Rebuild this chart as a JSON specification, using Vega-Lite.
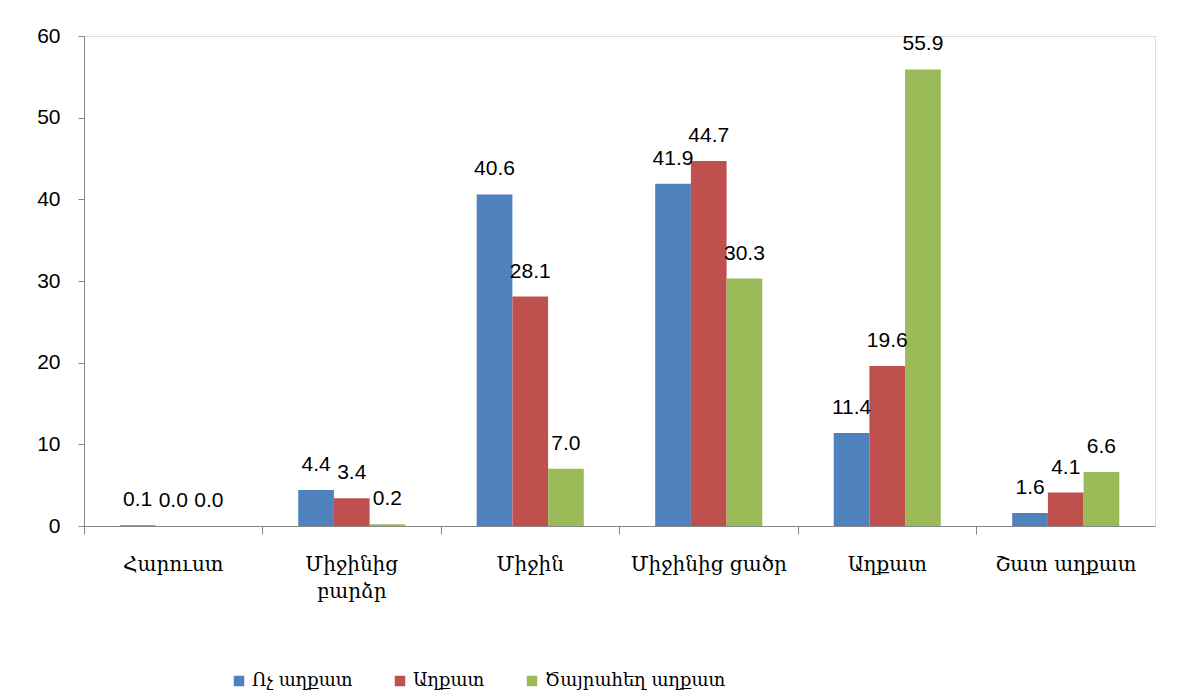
{
  "$schema": "https://vega.github.io/schema/vega-lite/v6.json",
  "autosize": {"type": "none"},
  "width": 1071,
  "height": 490,
  "padding": {"left": 84, "top": 36, "right": 22, "bottom": 172},
  "background": "white",
  "title": {
    "text": "(տոկոսային)",
    "anchor": "end",
    "orient": "top",
    "font": "DejaVu Serif",
    "fontStyle": "italic",
    "fontWeight": "normal",
    "fontSize": 19,
    "color": "#000000",
    "baseline": "bottom",
    "offset": 29,
    "dx": 18
  },
  "data": {
    "values": [
      {"category": "Հարուստ", "group": "Ոչ աղքատ", "value": 0.1},
      {"category": "Հարուստ", "group": "Աղքատ", "value": 0.0},
      {"category": "Հարուստ", "group": "Ծայրահեղ աղքատ", "value": 0.0},
      {"category": "Միջինից բարձր", "group": "Ոչ աղքատ", "value": 4.4},
      {"category": "Միջինից բարձր", "group": "Աղքատ", "value": 3.4},
      {"category": "Միջինից բարձր", "group": "Ծայրահեղ աղքատ", "value": 0.2},
      {"category": "Միջին", "group": "Ոչ աղքատ", "value": 40.6},
      {"category": "Միջին", "group": "Աղքատ", "value": 28.1},
      {"category": "Միջին", "group": "Ծայրահեղ աղքատ", "value": 7.0},
      {"category": "Միջինից ցածր", "group": "Ոչ աղքատ", "value": 41.9},
      {"category": "Միջինից ցածր", "group": "Աղքատ", "value": 44.7},
      {"category": "Միջինից ցածր", "group": "Ծայրահեղ աղքատ", "value": 30.3},
      {"category": "Աղքատ", "group": "Ոչ աղքատ", "value": 11.4},
      {"category": "Աղքատ", "group": "Աղքատ", "value": 19.6},
      {"category": "Աղքատ", "group": "Ծայրահեղ աղքատ", "value": 55.9},
      {"category": "Շատ աղքատ", "group": "Ոչ աղքատ", "value": 1.6},
      {"category": "Շատ աղքատ", "group": "Աղքատ", "value": 4.1},
      {"category": "Շատ աղքատ", "group": "Ծայրահեղ աղքատ", "value": 6.6}
    ]
  },
  "encoding": {
    "x": {
      "field": "category",
      "type": "nominal",
      "sort": null,
      "scale": {"paddingInner": 0, "paddingOuter": 0},
      "axis": {
        "title": null,
        "labelAngle": 0,
        "bandPosition": 0,
        "labelExpr": "datum.value == 'Միջինից բարձր' ? ['Միջինից', 'բարձր'] : datum.value",
        "labelFont": "DejaVu Serif",
        "labelFontSize": 20,
        "labelColor": "#000000",
        "labelPadding": 20,
        "labelLineHeight": 27,
        "labelLimit": 0,
        "tickSize": 8,
        "tickColor": "#868686",
        "domainColor": "#868686",
        "labelBaseline": "top"
      }
    },
    "xOffset": {
      "field": "group",
      "type": "nominal",
      "sort": ["Ոչ աղքատ", "Աղքատ", "Ծայրահեղ աղքատ"],
      "scale": {"paddingInner": 0, "paddingOuter": 1.2}
    },
    "y": {
      "field": "value",
      "type": "quantitative",
      "scale": {"domain": [0, 60], "nice": false},
      "axis": {
        "title": null,
        "values": [0, 10, 20, 30, 40, 50, 60],
        "grid": false,
        "labelFont": "Liberation Sans",
        "labelFontSize": 21,
        "labelColor": "#000000",
        "labelPadding": 18,
        "tickSize": 6,
        "tickColor": "#868686",
        "domainColor": "#868686"
      }
    }
  },
  "layer": [
    {
      "mark": {"type": "bar"},
      "encoding": {
        "color": {
          "field": "group",
          "type": "nominal",
          "sort": ["Ոչ աղքատ", "Աղքատ", "Ծայրահեղ աղքատ"],
          "scale": {
            "domain": ["Ոչ աղքատ", "Աղքատ", "Ծայրահեղ աղքատ"],
            "range": ["#4F81BD", "#C0504D", "#9BBB59"]
          },
          "legend": {
            "title": null,
            "orient": "none",
            "legendX": 146,
            "legendY": 636,
            "direction": "horizontal",
            "symbolType": "square",
            "symbolSize": 110,
            "symbolStrokeWidth": 0,
            "labelFont": "DejaVu Serif",
            "labelFontSize": 18,
            "labelColor": "#000000",
            "labelLimit": 0,
            "columnPadding": 38,
            "labelOffset": 4
          }
        }
      }
    },
    {
      "mark": {"type": "text", "baseline": "alphabetic", "dy": -19, "font": "Liberation Sans", "fontSize": 21, "color": "#000000"},
      "encoding": {
        "text": {"field": "value", "type": "quantitative", "format": ".1f"}
      }
    }
  ]
}
